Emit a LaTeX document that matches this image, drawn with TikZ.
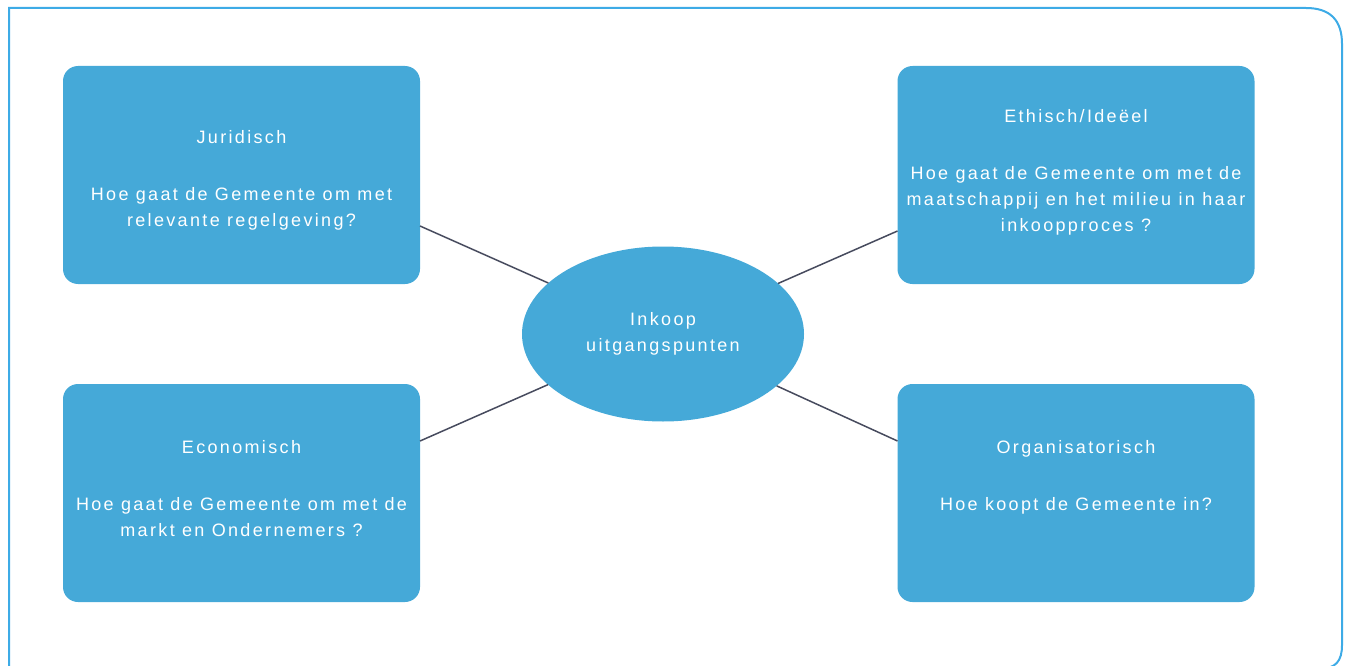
\documentclass[tikz,border=0pt]{standalone}
\usepackage{fontspec}
\setmainfont{Liberation Sans}[LetterSpace=13]
\usetikzlibrary{shapes.geometric}
\definecolor{boxblue}{HTML}{45A9D8}
\definecolor{framebl}{HTML}{3DABE6}
\definecolor{linegray}{HTML}{474B5E}
\newcommand{\dn}{\rule[-9pt]{0pt}{9pt}}
\tikzset{
  topic/.style={rectangle, rounded corners=15pt, fill=boxblue, draw=none,
    minimum width=357pt, minimum height=218pt, inner sep=0pt, outer sep=0pt,
    text=white, align=center, font=\fontsize{18}{26}\selectfont},
  hub/.style={ellipse, fill=boxblue, draw=none, minimum width=282pt,
    minimum height=175pt, inner sep=0pt, outer sep=0pt, text=white,
    align=center, font=\fontsize{18}{26}\selectfont},
  link/.style={draw=linegray, line width=1.5pt},
  frame/.style={draw=framebl, line width=2pt}
}
\begin{document}
\begin{tikzpicture}[x=1pt,y=-1pt]
\useasboundingbox (0,0) rectangle (1349,666);
\draw[frame] (9,690) -- (9,8) -- (1306,8)
  .. controls (1330,8) and (1342,20) .. (1342,44)
  -- (1342,645) .. controls (1342,661) and (1336,669) .. (1318,669) -- (9,669);
\node[hub] (c) at (663,334) {Inkoop\\uitgangspunten};
\node[topic] (tl) at (241.5,175) {\rule{0pt}{24pt}Juridisch\\[31pt]Hoe gaat de Gemeente om met\\relevante regelgeving?};
\node[topic] (tr) at (1076,175) {Ethisch/Ideëel\\[31pt]Hoe gaat de Gemeente om met de\\maatschappij en het milieu in haar\\inkoopproces ?\dn};
\node[topic] (bl) at (241.5,493) {Economisch\\[31pt]Hoe gaat de Gemeente om met de\\markt en Ondernemers ?\dn};
\node[topic] (br) at (1076,493) {Organisatorisch\\[31pt]Hoe koopt de Gemeente in?\\~\dn};
\coordinate (tlp) at ([yshift=-51pt]tl.east);
\coordinate (trp) at ([yshift=-56pt]tr.west);
\coordinate (blp) at ([yshift=52pt]bl.east);
\coordinate (brp) at ([yshift=52pt]br.west);
\draw[link] (c) -- (tlp);
\draw[link] (c) -- (trp);
\draw[link] (c) -- (blp);
\draw[link] (c) -- (brp);
\end{tikzpicture}
\end{document}
